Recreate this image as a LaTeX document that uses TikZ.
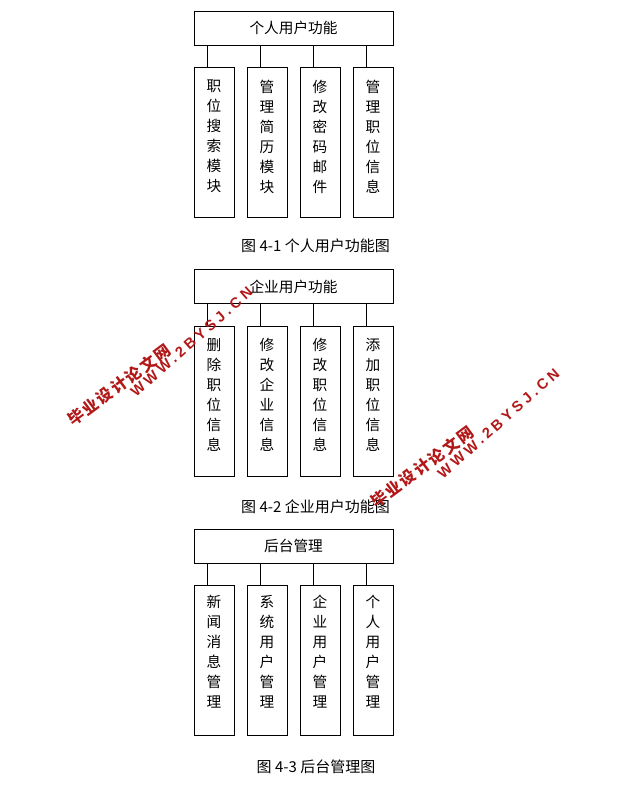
\documentclass[tikz,border=0pt]{standalone}
\usepackage{fontspec}
\setmainfont{Noto Sans CJK SC}
\newfontfamily\wmfont[LetterSpace=25]{Liberation Sans}
\newfontfamily\wmcjk[LetterSpace=12]{Noto Sans CJK SC}
\usepackage{xcolor}
\usepackage{tikz}
\usetikzlibrary{positioning,calc}
\definecolor{wmred}{RGB}{178,24,24}
\tikzstyle{topbox} = [rectangle,draw,minimum width=149.25pt,minimum height=25.5pt,font=\fontsize{11}{13}\selectfont]
\tikzstyle{colbox} = [rectangle,draw,minimum width=30pt,minimum height=112.5pt]
\tikzstyle{coltext} = [anchor=north,align=center,inner sep=0pt,font=\fontsize{11}{15}\selectfont]
\tikzstyle{caption} = [font=\fontsize{11.25}{13}\selectfont]
\tikzstyle{wmcn} = [text=wmred,rotate=36.5,inner sep=0pt,font=\fontsize{12}{12}\wmcjk\bfseries]
\tikzstyle{wmurl} = [text=wmred,rotate=41.5,inner sep=0pt,font=\fontsize{11}{12}\wmfont\bfseries]

\begin{document}
\begin{tikzpicture}[x=0.75pt,y=-0.75pt,line width=0.75pt]
        \useasboundingbox (0,0) rectangle (639,794);
        % figure 4-1
        \node[topbox] (t1) at (293.5,28) {个人用户功能};
        \node[colbox] (c11) at (214,142) {};
        \node[colbox] (c12) at (267,142) {};
        \node[colbox] (c13) at (320,142) {};
        \node[colbox] (c14) at (373,142) {};
        \node[coltext] (x11) at ($(c11.north)+(0,13)$) {职\\位\\搜\\索\\模\\块};
        \node[coltext] (x12) at ($(c12.north)+(0,13)$) {管\\理\\简\\历\\模\\块};
        \node[coltext] (x13) at ($(c13.north)+(0,13)$) {修\\改\\密\\码\\邮\\件};
        \node[coltext] (x14) at ($(c14.north)+(0,13)$) {管\\理\\职\\位\\信\\息};
        \foreach \c in {c11,c12,c13,c14}
            \draw ([xshift=10.5pt]\c.north west) -- ([xshift=10.5pt]\c.north west |- t1.south);
        \node[caption] (f1) at (315.5,246) {图 4-1 个人用户功能图};
        % figure 4-2
        \node[topbox] (t2) at (293.5,286.5) {企业用户功能};
        \node[colbox] (c21) at (214,401.5) {};
        \node[colbox] (c22) at (267,401.5) {};
        \node[colbox] (c23) at (320,401.5) {};
        \node[colbox] (c24) at (373,401.5) {};
        \node[coltext] (x21) at ($(c21.north)+(0,12)$) {删\\除\\职\\位\\信\\息};
        \node[coltext] (x22) at ($(c22.north)+(0,12)$) {修\\改\\企\\业\\信\\息};
        \node[coltext] (x23) at ($(c23.north)+(0,12)$) {修\\改\\职\\位\\信\\息};
        \node[coltext] (x24) at ($(c24.north)+(0,12)$) {添\\加\\职\\位\\信\\息};
        \foreach \c in {c21,c22,c23,c24}
            \draw ([xshift=10.5pt]\c.north west) -- ([xshift=10.5pt]\c.north west |- t2.south);
        \node[caption] (f2) at (315.5,507) {图 4-2 企业用户功能图};
        % figure 4-3
        \node[topbox] (t3) at (293.5,546) {后台管理};
        \node[colbox] (c31) at (214,660.5) {};
        \node[colbox] (c32) at (267,660.5) {};
        \node[colbox] (c33) at (320,660.5) {};
        \node[colbox] (c34) at (373,660.5) {};
        \node[coltext] (x31) at ($(c31.north)+(0,10)$) {新\\闻\\消\\息\\管\\理};
        \node[coltext] (x32) at ($(c32.north)+(0,10)$) {系\\统\\用\\户\\管\\理};
        \node[coltext] (x33) at ($(c33.north)+(0,10)$) {企\\业\\用\\户\\管\\理};
        \node[coltext] (x34) at ($(c34.north)+(0,10)$) {个\\人\\用\\户\\管\\理};
        \foreach \c in {c31,c32,c33,c34}
            \draw ([xshift=10.5pt]\c.north west) -- ([xshift=10.5pt]\c.north west |- t3.south);
        \node[caption] (f3) at (316,767) {图 4-3 后台管理图};
        % watermarks
        \node[wmcn] (w1) at (119,385) {毕业设计论文网};
        \node[wmurl] (u1) at (191.5,342) {WWW.2BYSJ.CN};
        \node[wmcn] (w2) at (422,467) {毕业设计论文网};
        \node[wmurl] (u2) at (498.5,423.5) {WWW.2BYSJ.CN};
    \end{tikzpicture}
\end{document}
